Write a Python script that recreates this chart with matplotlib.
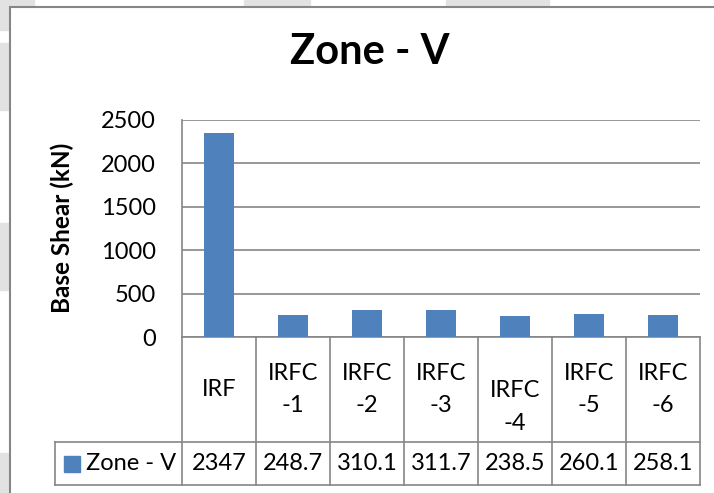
import matplotlib.pyplot as plt
from matplotlib.patches import Rectangle
from matplotlib.transforms import blended_transform_factory
import numpy as np

plt.rcParams['font.family'] = ['Lato', 'DejaVu Sans']

# data
categories = ['IRF', 'IRFC\n-1', 'IRFC\n-2', 'IRFC\n-3', 'IRFC\n-4', 'IRFC\n-5', 'IRFC\n-6']
values = [2347, 248.7, 310.1, 311.7, 238.5, 260.1, 258.1]
value_labels = ['2347', '248.7', '310.1', '311.7', '238.5', '260.1', '258.1']
series_name = 'Zone - V'
y_ticks = [0, 500, 1000, 1500, 2000, 2500]

W, H = 714, 493
BLUE = '#4F81BD'
GRAY = '#868686'
fig = plt.figure(figsize=(W / 100, H / 100), dpi=100)

def fx(p):
    return p / W

def fy(p):
    return 1 - p / H

# faint watermark bits in the margin
for x0, x1 in [(0, 34), (244, 310), (446, 549)]:
    fig.patches.append(Rectangle((fx(x0), fy(8)), fx(x1 - x0), 8 / H,
                                 transform=fig.transFigure, color='#e2e2e2', zorder=-3))
for y0, y1 in [(0, 30), (43, 110), (223, 290), (453, 493)]:
    fig.patches.append(Rectangle((0, fy(y1)), fx(10), (y1 - y0) / H,
                                 transform=fig.transFigure, color='#e2e2e2', zorder=-3))

# chart frame
fig.patches.append(Rectangle((fx(10), fy(500)), fx(720), 493 / H, transform=fig.transFigure,
                             facecolor='white', edgecolor=GRAY, linewidth=1.5, zorder=-2))

top, bot = 120, 337
ax = fig.add_axes([fx(182), fy(bot), fx(700 - 182), (bot - top) / H])
ax.set_facecolor('none')
x = np.arange(len(values))
ax.bar(x, values, width=0.4, color=BLUE, zorder=3)
ax.set_xlim(-0.5, len(values) - 0.5)
ax.set_ylim(0, 2500)
ax.set_yticks(y_ticks)
ax.set_yticklabels([str(t) for t in y_ticks])
ax.yaxis.grid(True, color=GRAY, linewidth=1.2)
ax.set_axisbelow(True)
ax.tick_params(axis='y', length=0, pad=19, labelsize=17)
ax.set_xticks([])
for s in ['top', 'right', 'bottom']:
    ax.spines[s].set_visible(False)
ax.spines['left'].set_color(GRAY)
ax.spines['left'].set_linewidth(1.2)

def ay(p):
    return (bot - p) / (bot - top)

# data table under the plot
tr = blended_transform_factory(ax.transData, ax.transAxes)
row1, row2 = ay(442), ay(485)
leg_left = (55 - 182) / (700 - 182)
n = len(values)
lk = dict(color=GRAY, linewidth=1.2, clip_on=False)
ax.plot([-0.5, n - 0.5], [0, 0], transform=tr, **lk)
ax.plot([leg_left, 1], [row1, row1], transform=ax.transAxes, **lk)
ax.plot([leg_left, 1], [row2, row2], transform=ax.transAxes, **lk)
ax.plot([leg_left, leg_left], [row1, row2], transform=ax.transAxes, **lk)
for i in range(n + 1):
    ax.plot([i - 0.5, i - 0.5], [0, row2], transform=tr, **lk)

for i, (c, v) in enumerate(zip(categories, value_labels)):
    yc = row1 / 2
    if i == 4:
        yc = ay(407)
    ax.text(i, yc, c, transform=tr, ha='center', va='center', fontsize=17,
            linespacing=1.7)
    ax.text(i, (row1 + row2) / 2, v, transform=tr, ha='center', va='center', fontsize=17)

ax.plot([(72 - 182) / 518], [(row1 + row2) / 2], marker='s', markersize=11, color=BLUE,
        transform=ax.transAxes, clip_on=False)
ax.text((86 - 182) / 518, (row1 + row2) / 2, series_name, transform=ax.transAxes,
        ha='left', va='center', fontsize=17)

fig.text(fx(62), fy(228), 'Base Shear (kN)', rotation=90, ha='center', va='center',
         fontsize=17.5, fontweight='bold')
fig.text(fx(370), fy(52), 'Zone - V', ha='center', va='center', fontsize=30,
         fontweight='bold')

fig.savefig('out.png', dpi=100)
